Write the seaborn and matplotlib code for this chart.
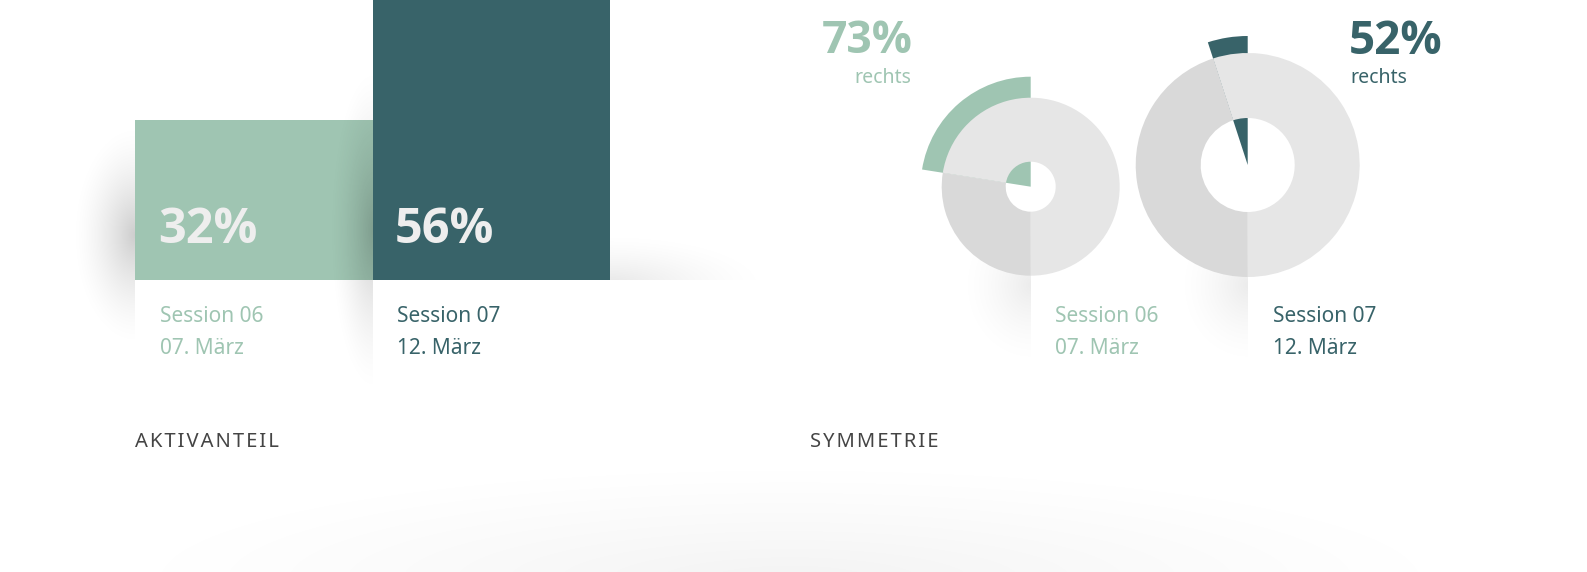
import numpy as np
import matplotlib
matplotlib.use("Agg")
from matplotlib import pyplot as plt
from matplotlib.patches import Rectangle
import seaborn as sns

# colours
green = "#9fc5b2"
teal = "#386369"
ring_light = "#e6e6e6"
ring_dark = "#d9d9d9"
label_grey = "#444444"

# Aktivanteil (bars)
sessions = ["Session 06", "Session 07"]
dates = ["07. März", "12. März"]
aktiv = [32, 56]

# Symmetrie (donuts)
sym_rechts = [73, 52]
sym_wedge = [81, 18]   # size of the coloured wedge in degrees, as drawn

W, H = 1587, 572

sns.set_theme(style="white")
plt.rcParams["font.family"] = ["Noto Sans", "DejaVu Sans"]
bold_family = ["Open Sans", "Lato", "DejaVu Sans"]

fig = plt.figure(figsize=(W / 100, H / 100), dpi=100)
fig.patch.set_facecolor("white")

# bar chart, baseline at y=280 px, 56% reaches the top edge
bar_ax = fig.add_axes([135 / W, (H - 280) / H, 475 / W, 280 / H])
sns.barplot(x=sessions, y=aktiv, hue=sessions, palette=[green, teal],
            width=1, saturation=1, legend=False, linewidth=0, ax=bar_ax)
bar_ax.set_xlim(-0.5, 1.5)
bar_ax.set_ylim(0, max(aktiv))
bar_ax.axis("off")

# overlay in pixel units (y up) for donuts, texts and shadows
ax = fig.add_axes([0, 0, 1, 1], zorder=2)
ax.patch.set_alpha(0)


def shadow(cx, cy, rx, ry, alpha, clip=None, power=1.6):
    n = 150
    yy, xx = np.mgrid[-1:1:n * 1j, -1:1:n * 1j]
    a = np.clip(1 - np.hypot(xx, yy), 0, 1) ** power * alpha
    img = np.zeros((n, n, 4))
    img[..., 3] = a
    im = ax.imshow(img, extent=(cx - rx, cx + rx, H - cy - ry, H - cy + ry),
                   interpolation="bilinear", aspect="auto", zorder=0)
    if clip is not None:
        x0, y0, x1, y1 = clip
        r = Rectangle((x0, H - y1), x1 - x0, y1 - y0, transform=ax.transData)
        im.set_clip_path(r)


shadow(135, 235, 65, 115, 0.2, clip=(0, 0, 135, H))
shadow(373, 230, 45, 170, 0.2, clip=(0, 0, 372.6, H))
shadow(610, 285, 170, 55, 0.1, clip=(610, 0, W, 280))
shadow(1031, 285, 75, 85, 0.08, clip=(0, 200, 1030.7, H))
shadow(1248, 285, 75, 85, 0.08, clip=(0, 200, 1247.7, H))
shadow(790, 580, 720, 125, 0.05, power=1.2)

# donuts
centers = [(1030.7, H - 186.7), (1247.7, H - 165)]
outer = [89, 112]
holes = [25, 47]
wedge_r = [110, 129]
cols = [green, teal]

for i in range(2):
    w = sym_wedge[i]
    ax.pie([w, 360 - w], radius=wedge_r[i], center=centers[i], startangle=90,
           counterclock=True, colors=[cols[i], (0, 0, 0, 0)],
           wedgeprops=dict(linewidth=0))
    ax.pie([180 + w, 180 - w], radius=outer[i], center=centers[i],
           startangle=90 + w, counterclock=False,
           colors=[ring_light, ring_dark],
           wedgeprops=dict(width=outer[i] - holes[i], linewidth=0))

# texts
big = dict(fontsize=35, fontweight="bold", family=bold_family,
           color="#eeeeee", va="baseline")
ax.text(158, H - 243, f"{aktiv[0]}%", **big)
ax.text(395, H - 243, f"{aktiv[1]}%", **big)

for i, x0 in enumerate([160, 397]):
    ax.text(x0, H - 322, sessions[i], fontsize=15, color=cols[i], va="baseline")
    ax.text(x0, H - 354, dates[i], fontsize=15, color=cols[i], va="baseline")
for i, x0 in enumerate([1055, 1272.7]):
    ax.text(x0, H - 322, sessions[i], fontsize=15, color=cols[i], va="baseline")
    ax.text(x0, H - 354, dates[i], fontsize=15, color=cols[i], va="baseline")

ax.text(913, H - 53, f"{sym_rechts[0]}%", fontsize=32, fontweight="bold",
        family=bold_family, color=green, ha="right", va="baseline")
ax.text(911, H - 83, "rechts", fontsize=14, color=green, ha="right", va="baseline")
ax.text(1349, H - 54, f"{sym_rechts[1]}%", fontsize=33, fontweight="bold",
        family=bold_family, color=teal, ha="left", va="baseline")
ax.text(1350, H - 83, "rechts", fontsize=14, color=teal, ha="left", va="baseline")

hair = "\u200a"
ax.text(135, H - 447, hair.join("AKTIVANTEIL"), fontsize=14.5, color=label_grey, va="baseline")
ax.text(810, H - 447, hair.join("SYMMETRIE"), fontsize=14.5, color=label_grey, va="baseline")

ax.set_xlim(0, W)
ax.set_ylim(0, H)
ax.set_aspect("equal", adjustable="datalim")
ax.set_xlim(0, W)
ax.set_ylim(0, H)
ax.axis("off")

fig.savefig("out.png", dpi=100)
